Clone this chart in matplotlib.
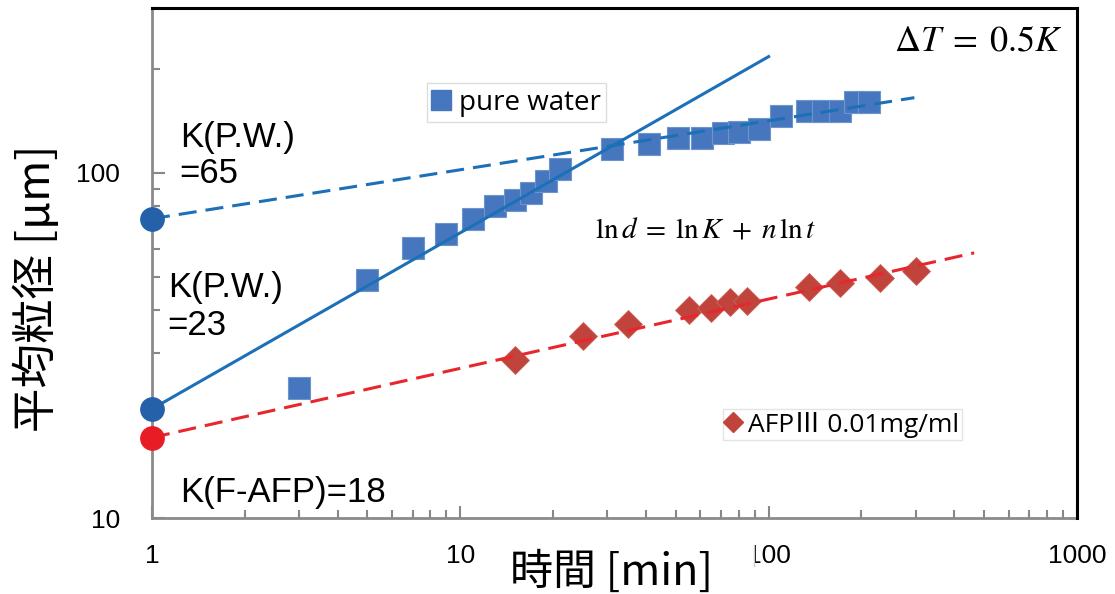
import matplotlib.pyplot as plt
from matplotlib.lines import Line2D
from matplotlib.patches import Rectangle
from matplotlib.ticker import FixedLocator, LogLocator, NullFormatter

plt.rcParams['mathtext.fontset'] = 'stix'
plt.rcParams['lines.scale_dashes'] = False

# pure water (squares)
pw_t = [3, 5, 7, 9, 11, 13, 15, 17, 19, 21, 31, 41, 51, 61, 71, 80, 93,
        110, 133, 150, 170, 190, 212]
pw_d = [23.8, 49, 60.7, 66.5, 73.6, 80.2, 83.5, 87.5, 94.8, 102.7, 117, 121,
        126, 126, 130, 131.5, 134, 146, 151, 151, 151, 160, 160]

# AFP III 0.01 mg/ml (diamonds)
afp_t = [15, 25, 35, 55, 65, 75, 85, 135, 170, 230, 300]
afp_d = [28.7, 33.7, 36.5, 40.1, 40.6, 42.3, 42.5, 46.7, 48.0, 49.6, 52]

# fit lines, end points
early_t = [1, 100]
early_d = [20.7, 217]
late_t = [1, 297]
late_d = [73.6, 165]
afp_fit_t = [1, 464]
afp_fit_d = [17.1, 58.6]

# intercepts at t = 1
k_t = [1, 1, 1]
k_d = [73.6, 20.7, 17.1]
k_col = ['#2461a8', '#2461a8', '#e81c24']

x_ticks = [1, 10, 100, 1000]
x_labels = ['1', '10', '100', '1000']
y_ticks = [10, 100]
y_labels = ['10', '100']

SQ = '#4677be'
DIA = '#c0433c'
BLUE = '#1b70b8'
RED = '#e8262d'
CJK = ['Noto Sans CJK JP', 'DejaVu Sans']
SANS = ['Liberation Sans', 'DejaVu Sans']

fig = plt.figure(figsize=(11.15, 5.94), dpi=100)
ax = fig.add_axes([0.1363, 0.1279, 0.8296, 0.8586])

ax.plot(pw_t, pw_d, ls='', marker='s', ms=16.3, color=SQ, mec='#6d95cc',
        mew=0.8, zorder=3)
ax.plot(afp_t, afp_d, ls='', marker='D', ms=14, color=DIA, mec='#cc6660',
        mew=0.6, zorder=3)

ax.plot(early_t, early_d, color=BLUE, lw=2.2, zorder=4)
ax.plot(late_t, late_d, color=BLUE, lw=2.2, dashes=(13, 6.5), zorder=4)
ax.plot(afp_fit_t, afp_fit_d, color=RED, lw=2.2, dashes=(13, 6.5), zorder=4)

for t, d, c in zip(k_t, k_d, k_col):
    ax.plot(t, d, marker='o', ms=16.8, color=c, mec=c, ls='', zorder=6,
            clip_on=False)

ax.set_xscale('log')
ax.set_yscale('log')
ax.set_xlim(1, 1000)
ax.set_ylim(10, 300)

ax.xaxis.set_major_locator(FixedLocator(x_ticks))
ax.set_xticklabels(x_labels)
ax.yaxis.set_major_locator(FixedLocator(y_ticks))
ax.set_yticklabels(y_labels)
for a in (ax.xaxis, ax.yaxis):
    a.set_minor_locator(LogLocator(base=10, subs=range(2, 10)))
    a.set_minor_formatter(NullFormatter())

ax.tick_params(which='both', direction='in', color='#888888', width=1.5,
               top=False, right=False)
ax.tick_params(which='major', length=9)
ax.tick_params(which='minor', length=6)
ax.tick_params(axis='x', labelsize=19, pad=19)
ax.tick_params(axis='y', labelsize=19, pad=23)
for lab in ax.get_xticklabels() + ax.get_yticklabels():
    lab.set_family(SANS)

for s in ('left', 'bottom'):
    ax.spines[s].set_color('#8a8a8a')
    ax.spines[s].set_linewidth(2)
for s in ('top', 'right'):
    ax.spines[s].set_color('black')
    ax.spines[s].set_linewidth(2.2)
    ax.spines[s].set_zorder(8)

# annotations
ax.text(0.030, 0.778, 'K(P.W.)\n=65', transform=ax.transAxes, fontsize=25,
        family=SANS, va='top', ha='left', linespacing=1.1)
ax.text(0.017, 0.485, 'K(P.W.)\n=23', transform=ax.transAxes, fontsize=25,
        family=SANS, va='top', ha='left', linespacing=1.2)
ax.text(0.030, 0.031, 'K(F-AFP)=18', transform=ax.transAxes, fontsize=25,
        family=SANS, va='baseline', ha='left')
ax.text(0.599, 0.565, r'$\ln d\;=\;\ln K\;+\;n\,\ln t$',
        transform=ax.transAxes, fontsize=21, va='center', ha='center')
ax.text(0.985, 0.937, r'$\Delta T\;=\;0.5K$', transform=ax.transAxes,
        fontsize=26, va='center', ha='right')

# legends
leg_font = ['Open Sans', 'Noto Sans CJK JP', 'DejaVu Sans']
h1 = Line2D([], [], ls='', marker='s', ms=14, color=SQ)
leg1 = ax.legend([h1], ['pure water'], loc='upper left',
                 bbox_to_anchor=(0.297, 0.853), fancybox=False,
                 edgecolor='#dcdcdc', framealpha=1,
                 prop=dict(family=leg_font, size=20),
                 handlelength=0.65, handletextpad=0.3, borderpad=0.2,
                 borderaxespad=0)
leg1.get_frame().set_linewidth(1)
ax.add_artist(leg1)
h2 = Line2D([], [], ls='', marker='D', ms=10, color=DIA)
leg2 = ax.legend([h2], ['AFPⅢ 0.01mg/ml'], loc='upper left',
                 bbox_to_anchor=(0.617, 0.214), fancybox=False,
                 edgecolor='#e4e4e4', framealpha=1,
                 prop=dict(family=leg_font, size=19),
                 handlelength=0.55, handletextpad=0.3, borderpad=0.1,
                 borderaxespad=0)
leg2.get_frame().set_linewidth(1)

# axis titles
fig.text(611 / 1115, 1 - 573 / 594, '時間 [min]', fontsize=31, family=CJK,
         ha='center', va='center')
fig.text(37 / 1115, 1 - 288 / 594, '平均粒径 [μm]', fontsize=32, family=CJK,
         ha='center', va='center', rotation=90)

# white patch hiding the "1" of 100 as in the original
fig.patches.append(Rectangle((733 / 1115, 1 - 574 / 594), 21 / 1115, 36 / 594,
                             transform=fig.transFigure, facecolor='white',
                             edgecolor='none', zorder=10))
fig.lines.append(Line2D([754 / 1115, 754 / 1115], [1 - 566 / 594, 1 - 545 / 594],
                        transform=fig.transFigure, color='#cccccc', lw=1,
                        zorder=11))

fig.savefig('out.png', dpi=100)
